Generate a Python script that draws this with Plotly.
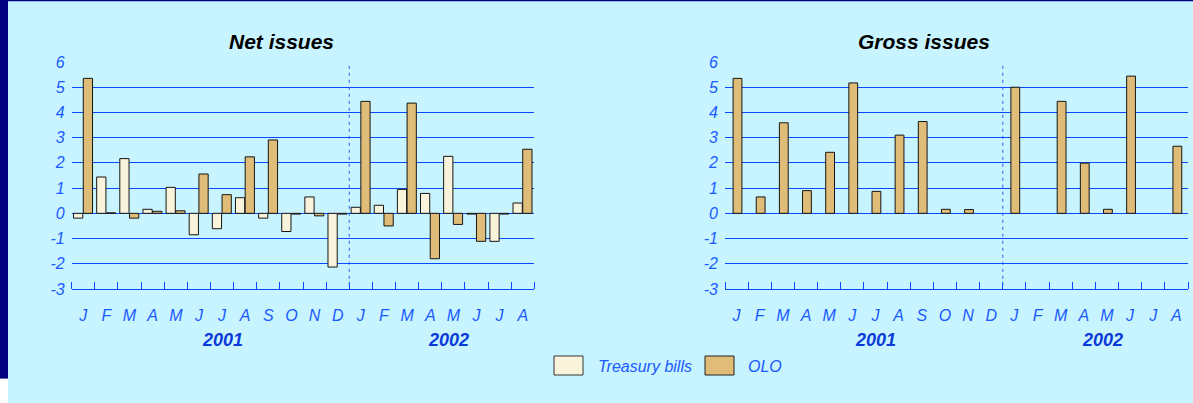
import plotly.graph_objects as go

months = ["J", "F", "M", "A", "M", "J", "J", "A", "S", "O", "N", "D",
          "J", "F", "M", "A", "M", "J", "J", "A"]
years = ["2001", "2002"]
series_names = ["Treasury bills", "OLO"]

net_tb = [-0.19, 1.44, 2.17, 0.16, 1.03, -0.85, -0.61, 0.62, -0.19, -0.72, 0.65, -2.13,
          0.24, 0.32, 0.95, 0.79, 2.26, -0.03, -1.11, 0.41]
net_olo = [5.35, 0.02, -0.19, 0.08, 0.10, 1.56, 0.74, 2.24, 2.91, -0.03, -0.10, -0.03,
           4.44, -0.50, 4.37, -1.80, -0.44, -1.11, -0.03, 2.54]
gross_olo = [5.35, 0.65, 3.59, 0.90, 2.42, 5.17, 0.87, 3.10, 3.64, 0.16, 0.15, None,
             5.00, None, 4.44, 1.99, 0.16, 5.44, None, 2.66]
y_ticks = [-3, -2, -1, 0, 1, 2, 3, 4, 5, 6]
y_tick_labels = ["-3", "-2", "-1", "0", "1", "2", "3", "4", "5", "6"]

W, H = 1193, 403
BG = "#C8F4FF"
NAVY = "#000080"
GRID = "#0A48FF"
TICKC = "#1A5AFF"
YEARC = "#0A3AD8"
TB_COL = "#FAF3DC"
OLO_COL = "#DFBD78"
FONT = "Liberation Sans, Arial, sans-serif"

x_idx = list(range(len(months)))

def px(xp):
    return xp / W

def py(yp):
    return 1 - yp / H

fig = go.Figure()

line = dict(color="#151515", width=1)
fig.add_trace(go.Bar(x=x_idx, y=net_tb, name=series_names[0], marker=dict(color=TB_COL, line=line),
                     width=0.4, offset=-0.42, xaxis="x", yaxis="y", showlegend=False))
fig.add_trace(go.Bar(x=x_idx, y=net_olo, name=series_names[1], marker=dict(color=OLO_COL, line=line),
                     width=0.4, offset=0.0, xaxis="x", yaxis="y", showlegend=False))
fig.add_trace(go.Bar(x=x_idx, y=gross_olo, name=series_names[1], marker=dict(color=OLO_COL, line=line),
                     width=0.38, offset=-0.15, xaxis="x2", yaxis="y2", showlegend=False))

ydom = [py(289), py(62)]
xdom1 = [px(71.7), px(534.3)]
xdom2 = [px(725), px(1188)]

def xaxis_cfg(dom, anchor):
    return dict(
        domain=dom, anchor=anchor, range=[-0.5, len(months) - 0.5],
        automargin=False,
        tickmode="array", tickvals=x_idx, ticktext=months, ticks="",
        tickfont=dict(family=FONT, size=16, color=TICKC, style="italic"),
        ticklabelstandoff=12,
        showgrid=False, zeroline=False,
        showline=True, linecolor=GRID, linewidth=1,
        minor=dict(tickmode="array", tickvals=[i - 0.5 for i in range(len(months) + 1)],
                   ticks="inside", ticklen=7, tickcolor=GRID, tickwidth=1, showgrid=False),
        fixedrange=True,
    )

def yaxis_cfg(anchor):
    return dict(
        domain=ydom, anchor=anchor, range=[-3, 6],
        automargin=False,
        tickmode="array", tickvals=y_ticks, ticktext=y_tick_labels, ticks="",
        tickfont=dict(family=FONT, size=16, color=TICKC, style="italic"),
        ticklabelstandoff=6,
        showgrid=True, gridcolor=GRID, gridwidth=1,
        zeroline=False, showline=False, fixedrange=True,
    )

shapes = [
    # navy frame
    dict(type="rect", xref="paper", yref="paper", x0=0, x1=px(8), y0=py(378), y1=1,
         fillcolor=NAVY, line=dict(width=0), layer="below"),
    dict(type="rect", xref="paper", yref="paper", x0=0, x1=1, y0=py(1.3), y1=1,
         fillcolor=NAVY, line=dict(width=0), layer="below"),
    dict(type="rect", xref="paper", yref="paper", x0=0, x1=px(8), y0=0, y1=py(378),
         fillcolor="white", line=dict(width=0), layer="below"),
    dict(type="line", xref="paper", yref="paper", x0=0, x1=px(8), y0=py(378.5), y1=py(378.5),
         line=dict(color="#6a6aa8", width=1), layer="below"),
    # year separators
    dict(type="line", xref="x", yref="y", x0=11.5, x1=11.5, y0=-3.15, y1=6,
         line=dict(color="#2060FF", width=1, dash="3px,4px")),
    dict(type="line", xref="x2", yref="y2", x0=11.5, x1=11.5, y0=-3.15, y1=6,
         line=dict(color="#2060FF", width=1, dash="3px,4px")),
    # legend boxes
    dict(type="rect", xref="paper", yref="paper", x0=px(554), x1=px(583), y0=py(375), y1=py(356),
         fillcolor=TB_COL, line=dict(color="#333333", width=1)),
    dict(type="rect", xref="paper", yref="paper", x0=px(705), x1=px(734), y0=py(375), y1=py(356),
         fillcolor=OLO_COL, line=dict(color="#222222", width=1)),
]

annotations = [
    dict(text="Net issues", xref="paper", yref="paper", x=px(281.5), y=py(41.5),
         xanchor="center", yanchor="middle", showarrow=False,
         font=dict(family=FONT, size=21, color="black", weight="bold", style="italic")),
    dict(text="Gross issues", xref="paper", yref="paper", x=px(923.5), y=py(41.5),
         xanchor="center", yanchor="middle", showarrow=False,
         font=dict(family=FONT, size=21, color="black", weight="bold", style="italic")),
    dict(text=years[0], xref="x", yref="paper", x=6.02, y=py(340),
         xanchor="center", yanchor="middle", showarrow=False,
         font=dict(family=FONT, size=18, color=YEARC, weight="bold", style="italic")),
    dict(text=years[1], xref="x", yref="paper", x=15.79, y=py(340),
         xanchor="center", yanchor="middle", showarrow=False,
         font=dict(family=FONT, size=18, color=YEARC, weight="bold", style="italic")),
    dict(text=years[0], xref="x2", yref="paper", x=6.02, y=py(340),
         xanchor="center", yanchor="middle", showarrow=False,
         font=dict(family=FONT, size=18, color=YEARC, weight="bold", style="italic")),
    dict(text=years[1], xref="x2", yref="paper", x=15.79, y=py(340),
         xanchor="center", yanchor="middle", showarrow=False,
         font=dict(family=FONT, size=18, color=YEARC, weight="bold", style="italic")),
    dict(text=series_names[0], xref="paper", yref="paper", x=px(596), y=py(366),
         xanchor="left", yanchor="middle", showarrow=False,
         font=dict(family=FONT, size=16, color=TICKC, style="italic")),
    dict(text=series_names[1], xref="paper", yref="paper", x=px(746), y=py(366),
         xanchor="left", yanchor="middle", showarrow=False,
         font=dict(family=FONT, size=16, color=TICKC, style="italic")),
]

fig.update_layout(
    width=W, height=H, autosize=False,
    margin=dict(l=0, r=0, t=0, b=0, pad=0),
    paper_bgcolor=BG, plot_bgcolor=BG,
    barmode="overlay",
    xaxis=xaxis_cfg(xdom1, "y"),
    yaxis=yaxis_cfg("x"),
    xaxis2=xaxis_cfg(xdom2, "y2"),
    yaxis2=yaxis_cfg("x2"),
    shapes=shapes,
    annotations=annotations,
    showlegend=False,
)

fig.write_html("out.html", config={"displayModeBar": False},
               post_script="document.body.style.margin='0';")
